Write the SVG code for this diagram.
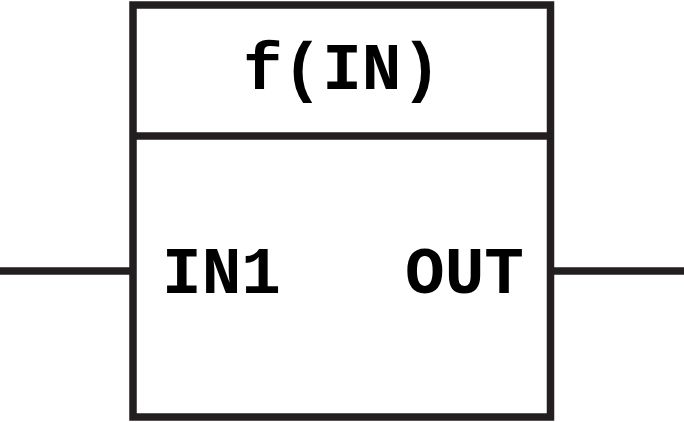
<svg xmlns="http://www.w3.org/2000/svg" width="684" height="422" viewBox="0 0 684 422">
<style>
.ln{stroke:#231f20;stroke-width:7.5;fill:none}
.t{font-family:"Liberation Mono","DejaVu Sans Mono",monospace;font-weight:bold;font-size:66px;fill:#000;text-anchor:middle}
</style>
<rect width="684" height="422" fill="#fff"/>
<g id="connectors">
<line class="ln" x1="0" y1="271" x2="133" y2="271"/>
<line class="ln" x1="550" y1="271" x2="684" y2="271"/>
</g>
<g id="block">
<rect class="ln" x="133" y="5" width="417.5" height="412"/>
<line class="ln" x1="133" y1="136" x2="550.5" y2="136"/>
<text class="t" x="342" y="89">f(IN)</text>
<text class="t" x="221.5" y="293">IN1</text>
<text class="t" x="464.5" y="293">OUT</text>
</g>
</svg>
